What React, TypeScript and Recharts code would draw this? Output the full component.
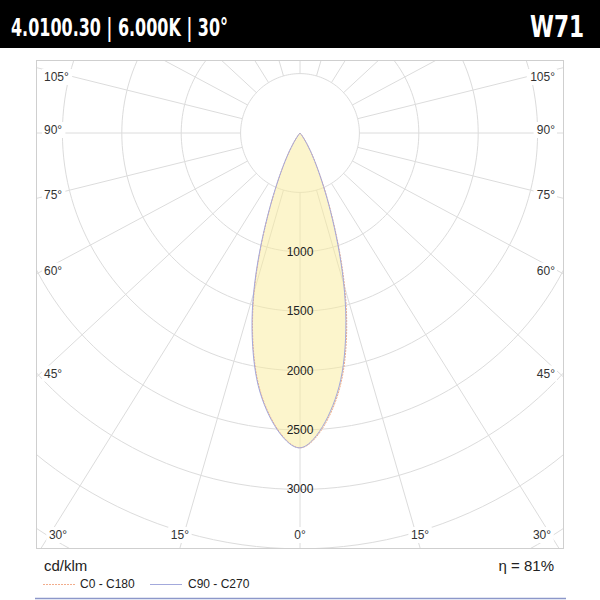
import { ScatterChart, Scatter, XAxis, YAxis } from 'recharts';

// gamma angle (deg) and luminous intensity per half plane, cd/klm
const gamma = [0, 2.5, 5, 7.5, 10, 12.5, 15, 17.5, 20, 22.5, 25, 27.5, 30, 32.5, 35, 37.5, 40, 42.5, 45];
const c0 = [2650, 2588, 2455, 2282, 2068, 1800, 1500, 1175, 862, 607, 413, 276, 180, 108, 58, 28, 11, 4, 0];
const c180 = [2650, 2590, 2462, 2295, 2088, 1825, 1532, 1208, 888, 622, 422, 282, 184, 110, 60, 29, 11, 4, 0];
const c90 = [2650, 2580, 2440, 2262, 2045, 1772, 1472, 1150, 843, 594, 404, 270, 176, 105, 56, 27, 10, 3, 0];
const c270 = [2650, 2595, 2470, 2305, 2100, 1840, 1550, 1225, 900, 630, 428, 286, 186, 112, 62, 30, 12, 4, 0];

const rings = [500, 1000, 1500, 2000, 2500, 3000, 3500, 4000];
const ringLabels = [1000, 1500, 2000, 2500, 3000];
const spokeAngles = [0, 15, 30, 45, 60, 75, 90, 105, 120, 135, 150, 165, 180, 195, 210, 225, 240, 255, 270, 285, 300, 315, 330, 345];
const angleLabels = [0, 15, 30, 45, 60, 75, 90, 105];

const title = '4.0100.30 | 6.000K | 30°';
const code = 'W71';
const unit = 'cd/klm';
const efficiency = 'η = 81%';
const seriesNames = ['C0 - C180', 'C90 - C270'];

// layout
const PLOT_W = 526;
const PLOT_H = 487;
const CX = 263;
const CY = 72;
const PX_PER_CD = 59.4 / 500;
const SPOKE_STRETCH = 1.08;
const ORANGE = '#f2ad8c';
const BLUE = '#a3a9dc';
const GRID = '#dcdcdc';
const FONT = '"Liberation Sans", Arial, sans-serif';

const xDomain = [-CX / PX_PER_CD, (PLOT_W - CX) / PX_PER_CD];
const yDomain = [-CY / PX_PER_CD, (PLOT_H - CY) / PX_PER_CD];

const rad = (d: number) => (d * Math.PI) / 180;

function lobe(left: number[], right: number[]) {
  const pts: { x: number; y: number }[] = [];
  for (let i = gamma.length - 1; i >= 0; i--) {
    pts.push({ x: -left[i] * Math.sin(rad(gamma[i])), y: left[i] * Math.cos(rad(gamma[i])) });
  }
  for (let i = 1; i < gamma.length; i++) {
    pts.push({ x: right[i] * Math.sin(rad(gamma[i])), y: right[i] * Math.cos(rad(gamma[i])) });
  }
  return pts;
}

function circle(r: number) {
  const pts: { x: number; y: number }[] = [];
  for (let a = 0; a <= 360; a += 2) pts.push({ x: r * Math.sin(rad(a)), y: r * Math.cos(rad(a)) });
  return pts;
}

function spokeDir(a: number) {
  const dx = Math.sin(rad(a)) * SPOKE_STRETCH;
  const dy = Math.cos(rad(a));
  const n = Math.hypot(dx, dy);
  return { dx: dx / n, dy: dy / n };
}

function spoke(a: number) {
  const { dx, dy } = spokeDir(a);
  return [
    { x: dx * rings[0], y: dy * rings[0] },
    { x: dx * 8000, y: dy * 8000 },
  ];
}

function edgePoint(a: number, deg: number) {
  const { dx, dy } = spokeDir(a);
  const hits: { t: number; edge: string }[] = [];
  if (dx < -1e-9) hits.push({ t: xDomain[0] / dx, edge: 'left' });
  if (dx > 1e-9) hits.push({ t: xDomain[1] / dx, edge: 'right' });
  if (dy > 1e-9) hits.push({ t: yDomain[1] / dy, edge: 'bottom' });
  if (dy < -1e-9) hits.push({ t: yDomain[0] / dy, edge: 'top' });
  hits.sort((p, q) => p.t - q.t);
  return { x: dx * hits[0].t, y: dy * hits[0].t, edge: hits[0].edge, deg };
}

const labelPoints = angleLabels.flatMap((d) =>
  d === 0 ? [edgePoint(0, 0)] : [edgePoint(-d, d), edgePoint(d, d)]
);
const ringLabelPoints = ringLabels.map((v) => ({ x: 0, y: v, v }));

const fillLeft = c270.map((v, i) => Math.max(v, c180[i]));
const fillRight = c0.map((v, i) => Math.max(v, c90[i]));

const noDot = () => <g />;

const AngleLabel = (p: any) => {
  const { cx, cy, payload } = p;
  const t = `${payload.deg}°`;
  const w = t.length * 6.8 + 3;
  let x = cx;
  let y = cy;
  let anchor: 'start' | 'end' | 'middle' = 'middle';
  if (payload.edge === 'left') {
    x = cx + 7;
    y = Math.max(cy - 3, 16);
    anchor = 'start';
  } else if (payload.edge === 'right') {
    x = cx - 8;
    y = Math.max(cy - 3, 16);
    anchor = 'end';
  } else {
    x = Math.min(Math.max(cx, 21), PLOT_W - 21);
    y = PLOT_H - 13;
  }
  const rx = anchor === 'start' ? x - 2 : anchor === 'end' ? x - w + 2 : x - w / 2;
  return (
    <g>
      <rect x={rx} y={y - 8} width={w} height={16} fill="#fff" />
      <text x={x} y={y} textAnchor={anchor} dominantBaseline="central" fontSize={12} fontFamily={FONT} fill="#333">
        {t}
      </text>
    </g>
  );
};

const RingLabel = (p: any) => (
  <text x={p.cx} y={p.cy} textAnchor="middle" dominantBaseline="central" fontSize={12} fontFamily={FONT} fill="#222">
    {p.payload.v}
  </text>
);

export default function App() {
  return (
    <div style={{ position: 'absolute', left: 0, top: 0, width: 600, height: 600, background: '#fff' }}>
      <svg width={600} height={600} style={{ position: 'absolute', left: 0, top: 0 }}>
        <rect x={0} y={0} width={600} height={48} fill="#000" />
        <text x={11} y={36} fill="#fff" fontSize={25} fontWeight="bold" textLength={217} lengthAdjust="spacingAndGlyphs"
          fontFamily='"Liberation Sans Narrow", "DejaVu Sans Condensed", "Liberation Sans", sans-serif'>
          {title}
        </text>
        <text x={584} y={37} fill="#fff" fontSize={31} fontWeight="bold" textAnchor="end" textLength={54} lengthAdjust="spacingAndGlyphs"
          fontFamily='"Liberation Sans Narrow", "DejaVu Sans Condensed", "Liberation Sans", sans-serif'>
          {code}
        </text>
        <rect x={36.5} y={60.5} width={527} height={488} fill="none" stroke="#cfcfcf" />
        <text x={44} y={571} fontSize={15} fontFamily={FONT} fill="#222">{unit}</text>
        <text x={554} y={571} fontSize={15} fontFamily={FONT} fill="#222" textAnchor="end">{efficiency}</text>
        <line x1={43} x2={75} y1={584.5} y2={584.5} stroke={ORANGE} strokeDasharray="2 1" />
        <text x={80} y={588} fontSize={12} fontFamily={FONT} fill="#222">{seriesNames[0]}</text>
        <line x1={150} x2={182} y1={584.5} y2={584.5} stroke={BLUE} />
        <text x={188} y={588} fontSize={12} fontFamily={FONT} fill="#222">{seriesNames[1]}</text>
        <line x1={35} x2={566} y1={598.5} y2={598.5} stroke="#8c97c9" strokeWidth={1.5} />
      </svg>
      <div style={{ position: 'absolute', left: 37, top: 61 }}>
        <ScatterChart width={PLOT_W} height={PLOT_H} margin={{ top: 0, right: 0, bottom: 0, left: 0 }}>
          <XAxis type="number" dataKey="x" domain={xDomain} allowDataOverflow hide />
          <YAxis type="number" dataKey="y" domain={yDomain} allowDataOverflow reversed hide />
          {rings.map((r) => (
            <Scatter key={`ring-${r}`} data={circle(r)} fill={GRID} line={{ stroke: GRID, strokeWidth: 1 }}
              shape={noDot} isAnimationActive={false} />
          ))}
          {spokeAngles.map((a) => (
            <Scatter key={`spoke-${a}`} data={spoke(a)} fill={GRID} line={{ stroke: GRID, strokeWidth: 1 }}
              shape={noDot} isAnimationActive={false} />
          ))}
          <Scatter data={lobe(fillLeft, fillRight)} fill="#f9ec9a" lineJointType="natural"
            line={{ fill: '#f9ec9a', fillOpacity: 0.5, stroke: 'none' }} shape={noDot} isAnimationActive={false} />
          <Scatter data={lobe(c180, c0)} fill={ORANGE} lineJointType="natural"
            line={{ stroke: ORANGE, strokeWidth: 1, strokeDasharray: '2 1' }} shape={noDot} isAnimationActive={false} />
          <Scatter data={lobe(c270, c90)} fill={BLUE} lineJointType="natural"
            line={{ stroke: BLUE, strokeWidth: 1 }} shape={noDot} isAnimationActive={false} />
          <Scatter data={labelPoints} fill="#333" shape={AngleLabel} isAnimationActive={false} />
          <Scatter data={ringLabelPoints} fill="#222" shape={RingLabel} isAnimationActive={false} />
        </ScatterChart>
      </div>
    </div>
  );
}
